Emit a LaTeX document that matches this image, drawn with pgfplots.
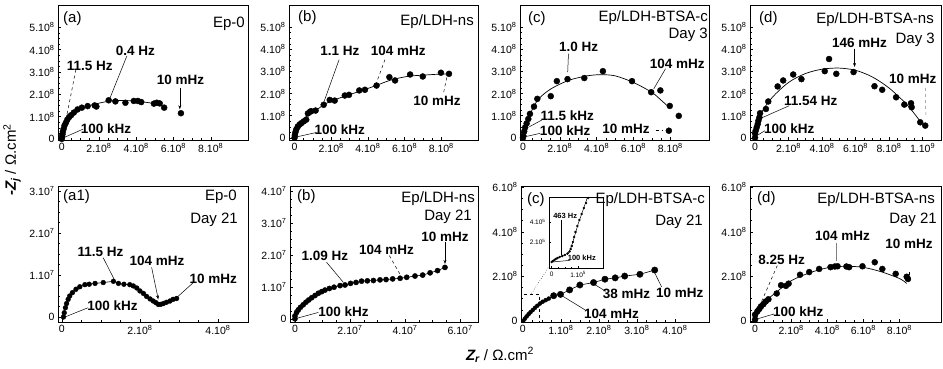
\documentclass[border=0pt]{standalone}
\usepackage{fontspec}
\setmainfont{Liberation Sans}
\usepackage{pgfplots}
\usepackage{pgfplotstable}
\pgfplotsset{compat=1.18}
\usetikzlibrary{arrows.meta}
\newcommand{\tl}[2]{#1.10\textsuperscript{#2}}

% ---------- data (x, y in the scaled units of each panel) ----------
\pgfplotstableread{
x y
0 0
0.02 0.1
0.04 0.2
0.06 0.32
0.1 0.45
0.15 0.6
0.22 0.72
0.3 0.86
0.4 0.98
0.5 1.06
0.65 1.18
0.85 1.32
1.08 1.4
1.39 1.47
1.77 1.5
1.86 1.45
2.52 1.73
2.88 1.68
3.42 1.62
3.87 1.70
4.09 1.70
4.27 1.65
4.95 1.58
5.1 1.62
5.26 1.59
5.5 1.4
6.4 1.15
}\TA
\pgfplotstableread{
x y
0 0
0.02 0.12
0.05 0.25
0.1 0.38
0.18 0.51
0.28 0.6
0.37 0.66
0.5 0.74
0.64 0.82
0.73 1.1
0.85 1.18
0.91 1.2
1.15 1.23
1.59 1.49
1.92 1.71
2.19 1.68
2.74 1.91
2.97 1.94
3.53 2.14
3.84 2.17
4.47 2.36
5.17 2.74
5.48 2.59
6.3 2.86
6.99 2.77
7.98 2.94
8.42 2.89
}\TB
\pgfplotstableread{
x y
0 0
0.02 0.09
0.07 0.29
0.12 0.47
0.2 0.65
0.29 0.85
0.38 1.08
0.6 1.41
0.78 1.76
1.51 1.88
1.84 2.56
2.42 2.65
3.33 2.7
4.34 3.01
5.92 2.56
6.96 2.06
7.46 2.14
7.97 1.44
8.46 0.99
7.92 0.32
}\TC
\pgfplotstableread{
x y
0 0
0.0 0.2
0.04 0.32
0.1 0.47
0.16 0.62
0.2 0.77
0.26 0.92
0.3 1.11
0.65 1.3
0.79 1.64
1.35 2.32
1.68 2.59
2.28 2.86
2.77 2.65
4.16 3.01
4.42 3.56
4.85 2.89
5.88 2.97
7.13 2.33
7.59 2.17
8.42 1.83
8.91 1.5
9.31 1.56
9.35 1.38
9.86 0.7
10.16 0.55
}\TD
\pgfplotstableread{
x y
0.04 0
0.06 0.1
0.09 0.22
0.12 0.32
0.16 0.42
0.2 0.5
0.27 0.58
0.36 0.66
0.46 0.72
0.59 0.77
0.7 0.78
0.85 0.8
1.06 0.82
1.32 0.85
1.45 0.8
1.59 0.78
1.74 0.77
1.83 0.74
1.92 0.69
2.0 0.62
2.09 0.56
2.17 0.49
2.26 0.43
2.34 0.38
2.41 0.34
2.47 0.3
2.53 0.3
2.6 0.32
2.68 0.35
2.77 0.38
2.85 0.42
2.94 0.44
}\TAA
\pgfplotstableread{
x y
0 0
0 0.09
0.06 0.2
0.12 0.28
0.2 0.36
0.3 0.44
0.4 0.52
0.5 0.59
0.61 0.66
0.73 0.73
0.85 0.8
0.97 0.85
1.09 0.9
1.25 0.95
1.42 0.99
1.64 1.04
1.82 1.06
2.02 1.11
2.22 1.14
2.42 1.18
2.63 1.19
2.85 1.2
3.09 1.22
3.31 1.23
3.55 1.25
3.82 1.27
4.06 1.3
4.36 1.34
4.64 1.37
4.91 1.44
5.18 1.51
5.45 1.61
}\TBB
\pgfplotstableread{
x y
0.01 0
0.053 0.1
0.098 0.2
0.15 0.3
0.2 0.39
0.26 0.49
0.32 0.59
0.38 0.68
0.45 0.78
0.52 0.86
0.6 0.93
0.68 1.0
}\TCCs
\pgfplotstableread{
x y
0.81 1.13
0.99 1.19
1.23 1.39
1.5 1.61
1.86 1.72
2.16 1.87
2.43 1.93
2.68 2.01
3.08 2.09
3.47 2.28
}\TCCb
\pgfplotstableread{
x y
0 0.06
0 0.28
0.13 0.43
0.24 0.54
0.33 0.65
0.46 0.75
0.59 0.87
0.74 0.97
1.2 1.23
1.44 1.6
1.71 1.57
1.86 1.67
2.49 2.07
3.0 2.19
3.55 2.33
4.18 2.41
4.42 2.44
4.57 2.45
5.06 2.44
5.21 2.41
5.95 2.45
6.63 2.63
7.05 2.33
7.79 2.11
8.4 1.98
8.47 1.88
}\TDD
\pgfplotstableread{
x y
0 0
0.05 0.1
0.1 0.2
0.15 0.3
0.22 0.4
0.3 0.5
0.4 0.6
0.5 0.7
0.6 0.85
0.68 1.05
0.72 1.3
0.76 1.6
0.8 2.0
0.85 2.5
0.9 3.0
0.97 3.6
1.05 4.2
1.13 4.8
1.22 5.4
1.3 5.9
1.38 6.4
}\TIN

\pgfplotsset{
 panel/.style={scale only axis, anchor=north west, clip mode=individual,
   axis line style={black, line width=0.6pt},
   tick pos=left, tick align=inside,
   major tick length=3pt, minor tick length=1.6pt,
   tick style={black, line width=0.4pt},
   minor tick num=3,
   ticklabel style={font=\fontsize{10.5}{12}\selectfont},
 },
 dots/.style={only marks, mark=*, mark size=#1, mark options={fill=black, draw=black}},
 fit/.style={black, line width=0.7pt, smooth, no marks},
}
\tikzset{ann/.style={font=\fontsize{13.5}{15}\selectfont\bfseries, inner sep=0pt},
 lead/.style={black, line width=0.5pt},
 arr/.style={black, line width=0.5pt, -{Stealth[length=4pt,width=3pt]}},
 ttl/.style={font=\fontsize{15}{17}\selectfont, inner sep=0pt}}

\begin{document}
\begin{tikzpicture}[x=1pt,y=1pt]
\useasboundingbox (0,0) rectangle (943,-368);

% ================= TOP (a) =================
\begin{axis}[panel, at={(58pt,-5pt)}, width=190pt, height=135pt,
 xmin=-0.2, xmax=10, ymin=-0.05, ymax=6,
 xtick={0,2,4,6,8}, xticklabels={0,\tl28,\tl48,\tl68,\tl88},
 ytick={0,1,2,3,4,5}, yticklabels={0,\tl18,\tl28,\tl38,\tl48,\tl58}]
\addplot[fit] coordinates {(0,0)(0.1,0.4)(0.3,0.85)(0.6,1.15)(1,1.35)(1.5,1.5)(2,1.6)(2.6,1.7)(3.2,1.72)(4,1.7)(4.6,1.63)(5.3,1.55)};
\addplot[dots=3pt] table[x=x,y=y] {\TA};
\draw[lead,dashed] (axis cs:0.76,3.1)--(axis cs:0.25,0.96);
\node[ann] at (axis cs:1.51,3.27) {11.5 Hz};
\draw[lead] (axis cs:3.5,3.72)--(axis cs:2.56,1.77);
\node[ann] at (axis cs:3.95,3.94) {0.4 Hz};
\draw[arr] (axis cs:6.34,2.29)--(axis cs:6.34,1.33);
\node[ann] at (axis cs:6.38,2.65) {10 mHz};
\draw[lead] (axis cs:1.15,0.44)--(axis cs:0.04,0.03);
\node[ann] at (axis cs:2.38,0.47) {100 kHz};
\end{axis}

% ================= TOP (b) =================
\begin{axis}[panel, at={(289pt,-5pt)}, width=189pt, height=135pt,
 xmin=-0.3, xmax=10, ymin=-0.1, ymax=6,
 xtick={0,2,4,6,8}, xticklabels={0,\tl28,\tl48,\tl68,\tl88},
 ytick={0,1,2,3,4,5}, yticklabels={0,\tl18,\tl28,\tl38,\tl48,\tl58}]
\addplot[fit] coordinates {(0,0)(0.3,0.6)(0.7,1.0)(1.2,1.25)(1.6,1.5)(2.2,1.72)(3,1.95)(3.8,2.17)(4.5,2.38)(5.3,2.62)(6.2,2.78)(7,2.83)(8,2.88)(8.45,2.88)};
\addplot[dots=3pt] table[x=x,y=y] {\TB};
\draw[lead] (axis cs:2.43,3.53)--(axis cs:1.59,1.59);
\node[ann] at (axis cs:2.47,3.95) {1.1 Hz};
\draw[lead,dashed] (axis cs:4.93,3.53)--(axis cs:4.47,2.5);
\node[ann] at (axis cs:5.66,3.95) {104 mHz};
\draw[lead,dashed] (axis cs:8.13,2.06)--(axis cs:8.31,2.77);
\node[ann] at (axis cs:7.76,1.68) {10 mHz};
\draw[lead] (axis cs:1.19,0.24)--(axis cs:-0.1,0);
\node[ann] at (axis cs:2.47,0.35) {100 kHz};
\end{axis}

% ================= TOP (c) =================
\begin{axis}[panel, at={(520pt,-5pt)}, width=189pt, height=135pt,
 xmin=-0.16, xmax=10.1, ymin=-0.1, ymax=6,
 xtick={0,2,4,6,8}, xticklabels={0,\tl28,\tl48,\tl68,\tl88},
 ytick={0,1,2,3,4,5}, yticklabels={0,\tl18,\tl28,\tl38,\tl48,\tl58}]
\addplot[fit] coordinates {(0,0)(0.3,0.9)(0.8,1.7)(1.5,2.2)(2.5,2.6)(3.5,2.8)(4.2,2.85)(5,2.8)(6,2.5)(7,2.05)(7.5,1.7)(7.9,1.4)};
\addplot[dots=3pt] table[x=x,y=y] {\TC};
\draw[lead] (axis cs:2.47,3.8)--(axis cs:2.43,2.97);
\node[ann] at (axis cs:3.02,4.1) {1.0 Hz};
\draw[lead] (axis cs:7.74,3.12)--(axis cs:7.1,2.21);
\node[ann] at (axis cs:8.38,3.35) {104 mHz};
\draw[lead] (axis cs:1.02,0.8)--(axis cs:0.35,0.5);
\node[ann] at (axis cs:2.41,1.0) {11.5 kHz};
\draw[lead] (axis cs:0.93,0.2)--(axis cs:0.02,0.03);
\node[ann] at (axis cs:2.29,0.32) {100 kHz};
\draw[lead,dashed] (axis cs:7.2,0.32)--(axis cs:7.55,0.32);
\node[ann] at (axis cs:5.6,0.39) {10 mHz};
\end{axis}

% ================= TOP (d) =================
\begin{axis}[panel, at={(750pt,-5pt)}, width=191pt, height=135pt,
 xmin=-0.3, xmax=11.1, ymin=-0.1, ymax=6,
 xtick={0,2,4,6,8,10}, xticklabels={0,\tl28,\tl48,\tl68,\tl88,\tl19},
 ytick={0,1,2,3,4,5}, yticklabels={0,\tl18,\tl28,\tl38,\tl48,\tl58}]
\addplot[fit] coordinates {(0,0)(0.3,1.0)(1,1.8)(2,2.5)(3,2.9)(4,3.1)(5,3.15)(6,3.05)(7,2.75)(8,2.25)(9,1.55)(9.5,1.1)(10,0.6)};
\addplot[dots=3pt] table[x=x,y=y] {\TD};
\draw[arr] (axis cs:5.94,4.03)--(axis cs:5.94,3.2);
\node[ann] at (axis cs:6.24,4.29) {146 mHz};
\draw[lead,dashed,gray] (axis cs:10.16,2.26)--(axis cs:10.2,0.92);
\node[ann] at (axis cs:9.41,2.67) {10 mHz};
\draw[lead] (axis cs:2.04,1.45)--(axis cs:0.4,0.9);
\node[ann] at (axis cs:3.33,1.68) {11.54 Hz};
\draw[lead] (axis cs:0.59,0.32)--(axis cs:0,0.05);
\node[ann] at (axis cs:2.04,0.39) {100 kHz};
\end{axis}

% ================= BOTTOM (a1) =================
\begin{axis}[panel, at={(58pt,-186pt)}, width=190pt, height=136pt,
 xmin=-0.1, xmax=4.77, ymin=-0.12, ymax=3.12,
 xtick={0,2,4}, xticklabels={0,\tl28,\tl48},
 ytick={0,1,2,3}, yticklabels={0,\tl17,\tl27,\tl37}]
\addplot[black, line width=0.6pt, no marks] table[x=x,y=y] {\TAA};
\addplot[dots=2.4pt] table[x=x,y=y] {\TAA};
\draw[lead] (axis cs:1.06,1.41)--(axis cs:1.36,0.86);
\node[ann] at (axis cs:0.99,1.56) {11.5 Hz};
\draw[arr] (axis cs:2.3,1.18)--(axis cs:2.47,0.42);
\node[ann] at (axis cs:2.44,1.33) {104 mHz};
\draw[lead] (axis cs:3.37,0.82)--(axis cs:2.94,0.46);
\node[ann] at (axis cs:3.88,0.9) {10 mHz};
\draw[lead] (axis cs:0.67,0.22)--(axis cs:0.08,0);
\node[ann] at (axis cs:1.3,0.26) {100 kHz};
\end{axis}

% ================= BOTTOM (b) =================
\begin{axis}[panel, at={(290pt,-186pt)}, width=188pt, height=136pt,
 xmin=-0.18, xmax=6.65, ymin=-0.1, ymax=4.16,
 xtick={0,2,4,6}, xticklabels={0,\tl27,\tl47,\tl67},
 ytick={0,1,2,3,4}, yticklabels={0,\tl17,\tl27,\tl37,\tl47}]
\addplot[black, line width=0.6pt, no marks] table[x=x,y=y] {\TBB};
\addplot[dots=2.6pt] table[x=x,y=y] {\TBB};
\draw[lead] (axis cs:1.15,1.77)--(axis cs:1.76,1.14);
\node[ann] at (axis cs:1.09,1.98) {1.09 Hz};
\draw[lead,dashed] (axis cs:3.43,1.98)--(axis cs:3.82,1.39);
\node[ann] at (axis cs:3.33,2.17) {104 mHz};
\draw[arr] (axis cs:5.45,2.4)--(axis cs:5.45,1.72);
\node[ann] at (axis cs:5.45,2.58) {10 mHz};
\draw[lead] (axis cs:0.85,0.2)--(axis cs:0,0);
\node[ann] at (axis cs:1.76,0.23) {100 kHz};
\end{axis}

% ================= BOTTOM (c) =================
\begin{axis}[panel, at={(521pt,-186pt)}, width=188pt, height=136pt,
 xmin=-0.05, xmax=4.9, ymin=-0.05, ymax=6.05,
 xtick={0,1,2,3,4}, xticklabels={0,\tl18,\tl28,\tl38,\tl48},
 ytick={0,2,4,6}, yticklabels={0,\tl28,\tl48,\tl68}]
\addplot[black, line width=0.6pt, no marks] coordinates {(0.01,0)(0.15,0.3)(0.32,0.59)(0.52,0.86)(0.68,1.0)(0.81,1.13)(0.99,1.19)(1.23,1.39)(1.5,1.61)(1.86,1.72)(2.16,1.87)(2.43,1.93)(2.68,2.01)(3.08,2.09)(3.47,2.28)};
\addplot[dots=2pt] table[x=x,y=y] {\TCCs};
\addplot[dots=3.2pt] table[x=x,y=y] {\TCCb};
\draw[lead,dashed] (axis cs:-0.05,-0.04) rectangle (axis cs:0.42,1.19);
\draw[lead,dotted] (axis cs:0.23,1.23)--(axis cs:0.68,2.42);
\draw[lead] (axis cs:1.85,1.67)--(axis cs:2.18,1.33);
\node[ann] at (axis cs:2.73,1.19) {38 mHz};
\draw[lead] (axis cs:3.43,2.3)--(axis cs:3.65,1.53);
\node[ann] at (axis cs:4.13,1.28) {10 mHz};
\draw[lead] (axis cs:0.97,1.19)--(axis cs:1.63,0.5);
\node[ann] at (axis cs:2.33,0.32) {104 mHz};
\end{axis}

% ---- inset ----
\begin{axis}[panel, at={(549pt,-197pt)}, width=54pt, height=71pt,
 axis background/.style={fill=white},
 axis line style={black, line width=0.5pt},
 major tick length=2pt, minor tick length=1pt,
 xmin=-0.1, xmax=1.94, ymin=-0.6, ymax=6.5,
 xtick={0,1}, xticklabels={0,\tl15},
 ytick={2,4}, yticklabels={\tl25,\tl45},
 ticklabel style={font=\fontsize{6.5}{7}\selectfont}]
\addplot[black, line width=0.5pt, no marks] coordinates {(0,0)(0.3,0.5)(0.6,0.85)(0.7,1.2)(0.8,2.0)(1.0,3.8)(1.2,5.3)(1.42,7)};
\addplot[dots=1pt] table[x=x,y=y] {\TIN};
\draw[lead] (axis cs:0.38,4.24)--(axis cs:0.38,0.67);
\node[ann, font=\fontsize{7.5}{8}\selectfont\bfseries] at (axis cs:0.51,4.57) {463 Hz};
\draw[lead] (axis cs:0.7,0.17)--(axis cs:0.03,0);
\node[ann, font=\fontsize{7.5}{8}\selectfont\bfseries] at (axis cs:1.14,0.44) {100 kHz};
\end{axis}

% ================= BOTTOM (d) =================
\begin{axis}[panel, at={(750pt,-186pt)}, width=191pt, height=136pt,
 xmin=-0.28, xmax=10.3, ymin=-0.05, ymax=6.05,
 xtick={0,2,4,6,8}, xticklabels={0,\tl28,\tl48,\tl68,\tl88},
 ytick={0,2,4,6}, yticklabels={0,\tl28,\tl48,\tl68}]
\addplot[fit] coordinates {(0,0)(0.5,0.8)(1.2,1.3)(2,1.8)(3,2.15)(4,2.38)(5,2.45)(6,2.4)(7,2.2)(8,1.9)(8.4,1.68)};
\addplot[dots=3pt] table[x=x,y=y] {\TDD};
\draw[lead,dashed] (axis cs:1.23,2.48)--(axis cs:0.28,0.72);
\node[ann] at (axis cs:1.47,2.74) {8.25 Hz};
\draw[lead,gray] (axis cs:4.48,3.51)--(axis cs:4.48,2.7);
\node[ann] at (axis cs:4.84,3.8) {104 mHz};
\draw[lead] (axis cs:8.53,2.19)--(axis cs:8.53,2.05);
\node[ann] at (axis cs:8.53,3.44) {10 mHz};
\draw[lead] (axis cs:1.05,0.31)--(axis cs:0,0.06);
\node[ann] at (axis cs:2.39,0.4) {100 kHz};
\end{axis}

% ================= titles =================
\node[ttl, anchor=base west] at (63,-22) {(a)};
\node[ttl, anchor=base east] at (245,-27) {Ep-0};
\node[ttl, anchor=base west] at (298,-21) {(b)};
\node[ttl, anchor=base east] at (474,-25) {Ep/LDH-ns};
\node[ttl, anchor=base west] at (528,-22) {(c)};
\node[ttl, anchor=base east] at (708,-21) {Ep/LDH-BTSA-c};
\node[ttl, anchor=base east] at (708,-38) {Day 3};
\node[ttl, anchor=base west] at (759,-22) {(d)};
\node[ttl, anchor=base east] at (934,-23) {Ep/LDH-BTSA-ns};
\node[ttl, anchor=base east] at (935,-43) {Day 3};

\node[ttl, anchor=base west] at (63,-200) {(a1)};
\node[ttl, anchor=base east] at (237,-200) {Ep-0};
\node[ttl, anchor=base east] at (238,-223) {Day 21};
\node[ttl, anchor=base west] at (297,-200) {(b)};
\node[ttl, anchor=base east] at (475,-202) {Ep/LDH-ns};
\node[ttl, anchor=base east] at (472,-220) {Day 21};
\node[ttl, anchor=base west] at (527,-203) {(c)};
\node[ttl, anchor=base east] at (705,-203) {Ep/LDH-BTSA-c};
\node[ttl, anchor=base east] at (703,-225) {Day 21};
\node[ttl, anchor=base west] at (757,-202) {(d)};
\node[ttl, anchor=base east] at (935,-203) {Ep/LDH-BTSA-ns};
\node[ttl, anchor=base east] at (937,-223) {Day 21};

% axis titles
\node[ttl, rotate=90] at (12,-160) {\textbf{\textit{-Z\textsubscript{j}}} / Ω.cm\textsuperscript{2}};
\node[ttl] at (500,-355) {\textbf{\textit{Z\textsubscript{r}}} / Ω.cm\textsuperscript{2}};
\end{tikzpicture}
\end{document}
